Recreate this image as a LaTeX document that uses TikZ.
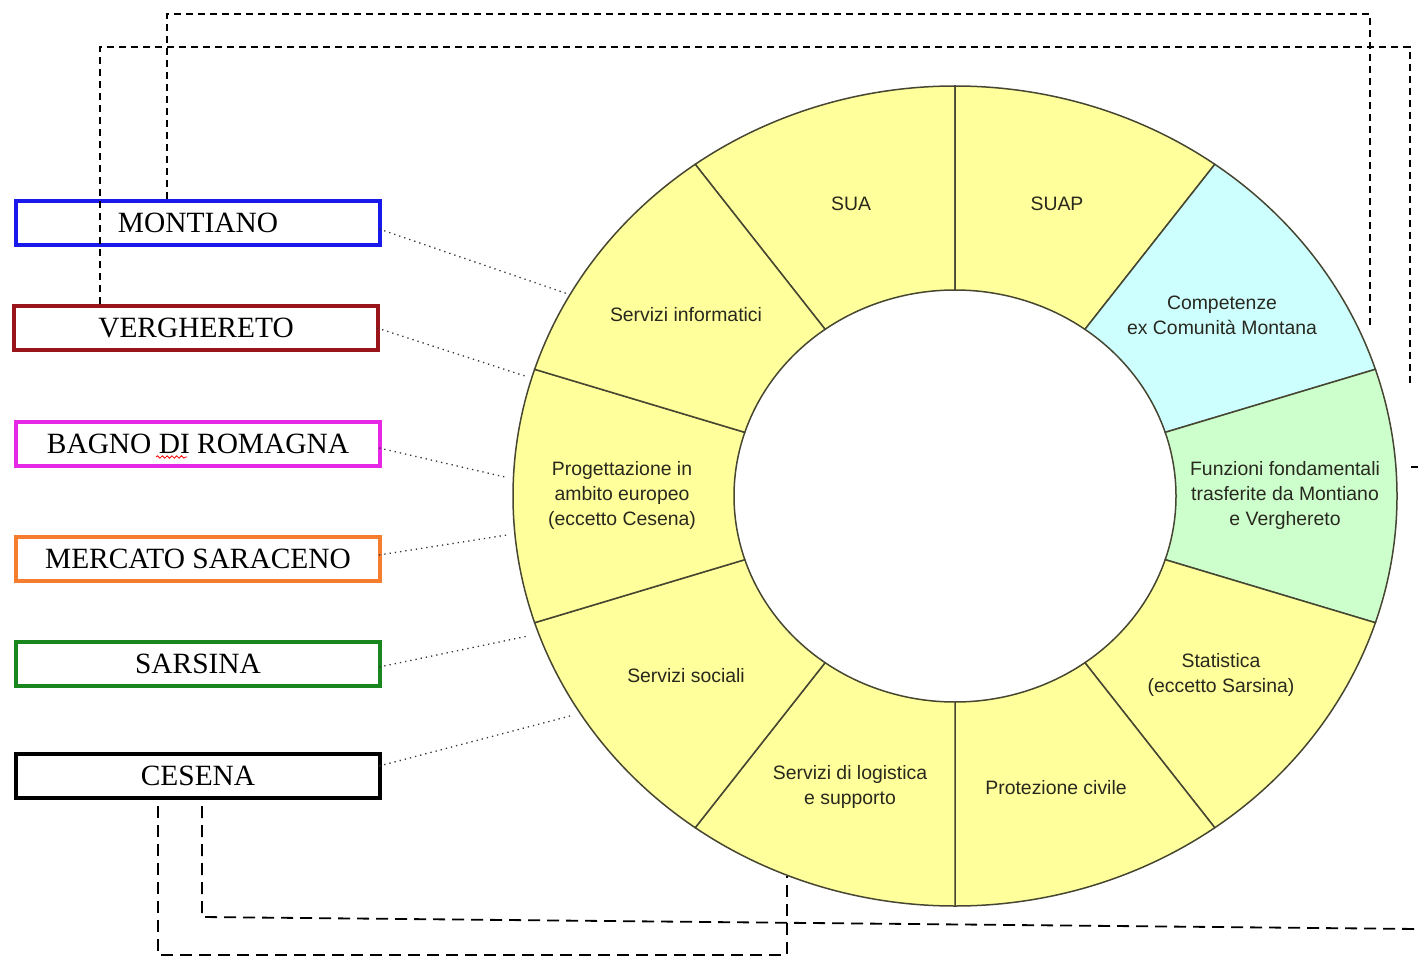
\documentclass[tikz,border=0pt]{standalone}
\usepackage{fontspec}
\setmainfont{Liberation Serif}
\setsansfont{Liberation Sans}
\usetikzlibrary{calc,decorations.pathmorphing}

\definecolor{segyellow}{RGB}{255,255,155}
\definecolor{segcyan}{RGB}{205,255,255}
\definecolor{seggreen}{RGB}{205,255,205}
\definecolor{ringline}{RGB}{70,70,50}
\definecolor{labelgray}{RGB}{40,40,30}
\definecolor{cblue}{RGB}{25,25,235}
\definecolor{cdarkred}{RGB}{155,20,25}
\definecolor{cmagenta}{RGB}{230,40,230}
\definecolor{corange}{RGB}{245,125,45}
\definecolor{cgreen}{RGB}{25,135,30}

\begin{document}
\begin{tikzpicture}[x=0.5pt,y=-0.5pt,
  townbox/.style={draw, line width=2.1pt, minimum width=182pt, minimum height=22pt,
    inner sep=0pt, font=\fontsize{14.7}{16}\selectfont},
  seglabel/.style={font=\sffamily\fontsize{9.7}{12.5}\selectfont, align=center, text=labelgray},
  segment/.style={draw=ringline, line width=0.75pt},
  linkdot/.style={draw=black!80, dotted, line width=0.65pt},
  linkdash/.style={draw=black, dash pattern=on 3.5pt off 2.5pt, line width=0.75pt},
  linkdashwide/.style={draw=black, dash pattern=on 6pt off 3.5pt, line width=0.9pt},
]
\useasboundingbox (0,0) rectangle (1418,957);

% ring centre
\coordinate (c) at (955,496);

% ten ring sectors of 36 degrees each (visual start angle / fill colour)
\foreach \a/\col in {90/segyellow, 54/segyellow, 18/segcyan, -18/seggreen,
                     -54/segyellow, -90/segyellow, -126/segyellow, -162/segyellow,
                     162/segyellow, 126/segyellow}{
  \path[segment, fill=\col]
    ($(c)+(-\a:442 and 410)$)
    arc[start angle=-\a, end angle=-\a-36, x radius=442, y radius=410]
    -- ($(c)+(-\a-36:221 and 206)$)
    arc[start angle=-\a-36, end angle=-\a, x radius=221, y radius=206]
    -- cycle;
}

% sector labels
\node[seglabel] (sua)  at (851,204)  {SUA};
\node[seglabel] (suap) at (1057,204) {SUAP};
\node[seglabel] (comp) at (1222,315) {Competenze\\ex Comunità Montana};
\node[seglabel] (funz) at (1285,495) {Funzioni fondamentali\\trasferite da Montiano\\e Verghereto};
\node[seglabel] (stat) at (1221,675) {Statistica\\(eccetto Sarsina)};
\node[seglabel] (prot) at (1056,788) {Protezione civile};
\node[seglabel] (logi) at (850,787)  {Servizi di logistica\\e supporto};
\node[seglabel] (soc)  at (686,676)  {Servizi sociali};
\node[seglabel] (prog) at (622,495)  {Progettazione in\\ambito europeo\\(eccetto Cesena)};
\node[seglabel] (info) at (686,315)  {Servizi informatici};

% municipality boxes
\node[townbox, draw=cblue]    (mont) at (198,223) {MONTIANO};
\node[townbox, draw=cdarkred] (verg) at (196,328) {VERGHERETO};
\node[townbox, draw=cmagenta] (bagn) at (198,444) {BAGNO DI ROMAGNA};
\node[townbox, draw=corange]  (merc) at (198,559) {MERCATO SARACENO};
\node[townbox, draw=cgreen]   (sars) at (198,664) {SARSINA};
\node[townbox, draw=black]    (cese) at (198,776) {CESENA};

% spell-check squiggle under "DI"
\coordinate (sq1) at (156,457);
\coordinate (sq2) at (187,457);
\draw[red, line width=0.4pt, decorate,
  decoration={snake, amplitude=0.6pt, segment length=2.4pt}] (sq1) -- (sq2);

% dotted links from the boxes to the ring
\coordinate (mont-r) at (568,294);
\coordinate (verg-r) at (528,377);
\coordinate (bagn-r) at (505,477);
\coordinate (merc-r) at (507,535);
\coordinate (sars-r) at (528,636);
\coordinate (cese-r) at (570,716);
\draw[linkdot] ([shift={(-3,6)}]mont.east)  -- (mont-r);
\draw[linkdot] ([shift={(-3,0)}]verg.east)  -- (verg-r);
\draw[linkdot] ([shift={(-3,4)}]bagn.east)  -- (bagn-r);
\draw[linkdot] ([shift={(-3,-4)}]merc.east) -- (merc-r);
\draw[linkdot] ([shift={(-3,3)}]sars.east)  -- (sars-r);
\draw[linkdot] ([shift={(-3,-10)}]cese.east) -- (cese-r);

% dashed routes across the top
\coordinate (mt1) at (167,14);
\coordinate (mt2) at (1370,14);
\coordinate (mt3) at (1370,328);
\draw[linkdash] (mont.north -| mt1) -- (mt1) -- (mt2) -- (mt3);

\coordinate (vt1) at (100,47);
\coordinate (vt2) at (1410,47);
\coordinate (vt3) at (1410,388);
\draw[linkdash] (verg.north -| vt1) -- (vt1) -- (vt2) -- (vt3);
\coordinate (vt4) at (1411,467);
\coordinate (vt5) at (1418,467);
\draw[line width=0.75pt] (vt4) -- (vt5);

% dashed routes below CESENA
\coordinate (cb1) at (158,955);
\coordinate (cb2) at (787,955);
\coordinate (cb3) at (787,876);
\draw[linkdashwide] ($(cese.south -| cb1)+(0,6)$) -- (cb1) -- (cb2) -- (cb3);

\coordinate (cc1) at (202,917);
\coordinate (cc2) at (1418,929);
\draw[linkdashwide] ($(cese.south -| cc1)+(0,6)$) -- (cc1) -- (cc2);
\end{tikzpicture}
\end{document}
